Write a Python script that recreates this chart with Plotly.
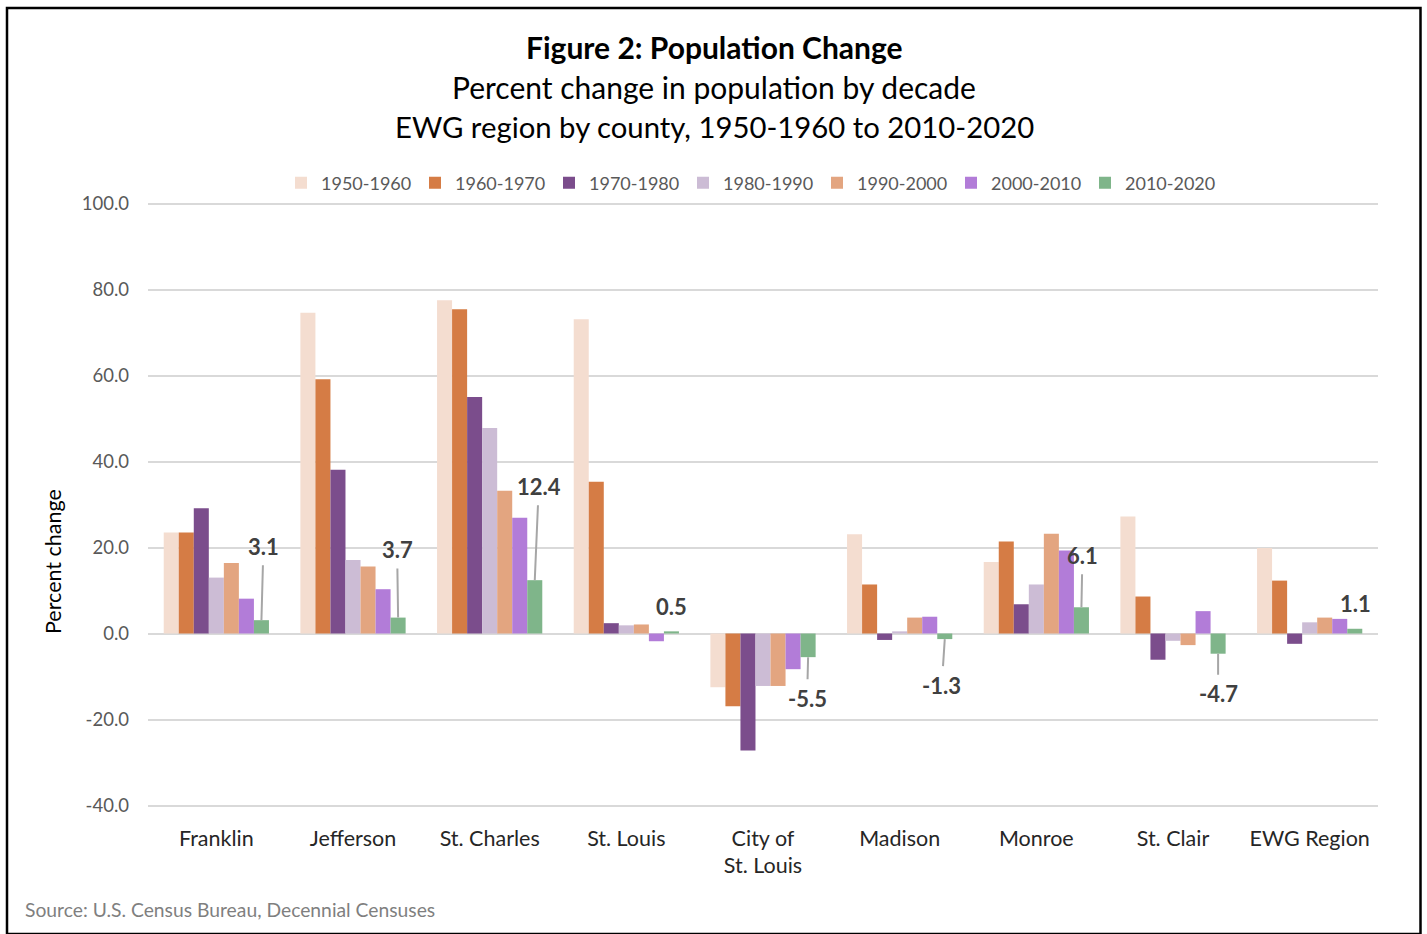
import plotly.graph_objects as go

# County categories shown along the x axis
counties = ["Franklin", "Jefferson", "St. Charles", "St. Louis", "City of<br>St. Louis",
            "Madison", "Monroe", "St. Clair", "EWG Region"]

decades = ["1950-1960", "1960-1970", "1970-1980", "1980-1990",
           "1990-2000", "2000-2010", "2010-2020"]

# Percent change in population, one list per decade (same order as counties)
pct_1950_1960 = [23.5, 74.6, 77.5, 73.1, -12.5, 23.1, 16.6, 27.2, 19.9]
pct_1960_1970 = [23.5, 59.1, 75.4, 35.3, -16.9, 11.4, 21.4, 8.6, 12.3]
pct_1970_1980 = [29.1, 38.1, 55.0, 2.4, -27.2, -1.5, 6.8, -6.1, -2.4]
pct_1980_1990 = [13.0, 17.1, 47.8, 1.9, -12.2, 0.5, 11.4, -1.7, 2.6]
pct_1990_2000 = [16.4, 15.6, 33.2, 2.1, -12.2, 3.7, 23.2, -2.7, 3.7]
pct_2000_2010 = [8.1, 10.3, 26.9, -1.8, -8.3, 3.9, 19.3, 5.2, 3.4]
pct_2010_2020 = [3.1, 3.7, 12.4, 0.5, -5.5, -1.3, 6.1, -4.7, 1.1]

series = [pct_1950_1960, pct_1960_1970, pct_1970_1980, pct_1980_1990,
          pct_1990_2000, pct_2000_2010, pct_2010_2020]

# Y axis ticks (labels use a plain hyphen for negatives)
y_ticks = [-40, -20, 0, 20, 40, 60, 80, 100]
y_ticktext = [f"{v:.1f}" for v in y_ticks]

colors = ["#F4DDD0", "#D57C45", "#7B4D8C", "#CCBCD5", "#E3A580", "#B27CD8", "#7FB58A"]

FONT = "Lato, 'Open Sans', sans-serif"
BARGAP = 0.23

L, R, T, B = 148, 49, 202, 127
W, H = 1427, 934
pw, ph = W - L - R, H - T - B


def px_x(x):
    return (x - L) / pw


def px_y(y):
    return (H - B - y) / ph


fig = go.Figure()
for name, vals, col in zip(decades, series, colors):
    fig.add_trace(go.Bar(
        name=name, x=counties, y=vals,
        marker=dict(color=col, line=dict(width=0)),
        hoverinfo="x+y+name",
    ))

# Leader-line labels for the 2010-2020 series (offsets in px from the bar end)
label_offsets = [(2, -74), (-1, -68), (4, -94), (0, -25), (-1, 41),
                 (-3, 46), (1, -52), (0, 40), (1, -25)]
n_series = len(series)
slot = (1 - BARGAP) / n_series
last_offset = -(1 - BARGAP) / 2 + (n_series - 0.5) * slot
label_font = dict(family=FONT, size=22, color="#404040", weight="bold")
annotations = []
for i, (v, (dx, dy)) in enumerate(zip(pct_2010_2020, label_offsets)):
    xpos = i + last_offset
    if abs(dy) < 30:
        annotations.append(dict(
            x=xpos, y=v, xref="x", yref="y", text=f"{v:.1f}",
            showarrow=False, xshift=dx, yshift=-dy, font=label_font,
        ))
    else:
        annotations.append(dict(
            x=xpos, y=v, xref="x", yref="y", text=f"{v:.1f}",
            showarrow=True, arrowhead=0, arrowwidth=2, arrowcolor="#A6A6A6",
            ax=dx, ay=dy, standoff=0, startstandoff=4, font=label_font,
        ))

# Title block
title_lines = [("<b>Figure 2: Population Change</b>", 47, 30),
               ("Percent change in population by decade", 87, 30),
               ("EWG region by county, 1950-1960 to 2010-2020", 127, 29.3)]
for txt, ypx, fs in title_lines:
    annotations.append(dict(
        text=txt, x=px_x(714), y=px_y(ypx), xref="paper", yref="paper",
        showarrow=False, xanchor="center", yanchor="middle",
        font=dict(family=FONT, size=fs, color="#000000"),
    ))

# Y axis title
annotations.append(dict(
    text="Percent change", x=px_x(53), y=px_y(562), xref="paper", yref="paper",
    showarrow=False, xanchor="center", yanchor="middle", textangle=-90,
    font=dict(family=FONT, size=21.5, color="#000000"),
))

# Source note
annotations.append(dict(
    text="Source: U.S. Census Bureau, Decennial Censuses",
    x=px_x(23), y=px_y(909), xref="paper", yref="paper",
    xanchor="left", yanchor="middle", showarrow=False,
    font=dict(family=FONT, size=19.3, color="#7F7F7F"),
))

fig.update_layout(
    width=W, height=H,
    margin=dict(l=L, r=R, t=T, b=B),
    paper_bgcolor="white", plot_bgcolor="white",
    barmode="group", bargap=BARGAP, bargroupgap=0,
    font=dict(family=FONT, color="#595959"),
    annotations=annotations,
    legend=dict(
        orientation="h", x=px_x(750), xanchor="center", y=px_y(183), yanchor="middle",
        font=dict(family=FONT, size=18, color="#595959"),
        itemwidth=30, entrywidth=89, traceorder="normal",
        itemclick=False, itemdoubleclick=False,
    ),
    showlegend=True,
    shapes=[dict(
        type="rect", xref="paper", yref="paper",
        x0=px_x(7), x1=px_x(1420.5), y0=px_y(934), y1=px_y(8),
        line=dict(color="#000000", width=2.5), fillcolor="rgba(0,0,0,0)", layer="above",
    )],
)

fig.update_yaxes(
    range=[-40.35, 100.35], tickvals=y_ticks, ticktext=y_ticktext,
    showgrid=True, gridcolor="#D9D9D9", gridwidth=2,
    zeroline=True, zerolinecolor="#D9D9D9", zerolinewidth=2,
    showline=False, ticks="", ticklabelstandoff=18,
    tickfont=dict(family=FONT, size=18.5, color="#595959"),
)
fig.update_xaxes(
    showgrid=False, showline=False, ticks="", ticklabelstandoff=16,
    tickfont=dict(family=FONT, size=21.5, color="#262626"),
)

fig.write_html("out.html")
